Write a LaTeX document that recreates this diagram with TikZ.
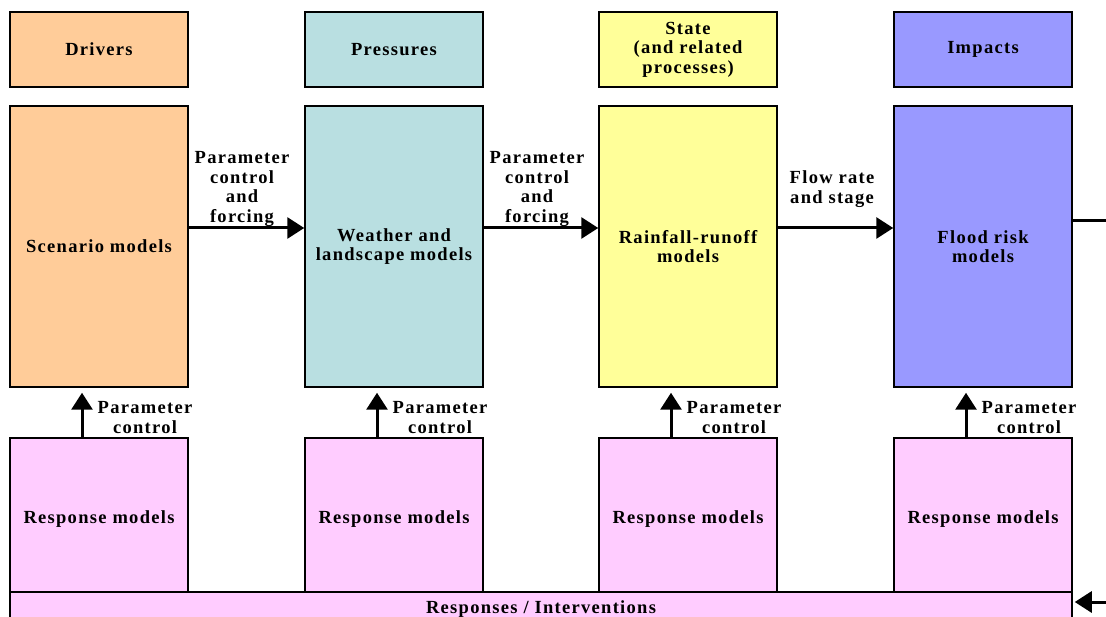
\documentclass[tikz,border=0pt]{standalone}
\usepackage{fontspec}
\newfontfamily\boxfont[LetterSpace=7]{Liberation Serif}
\usetikzlibrary{arrows.meta}
\definecolor{driverfill}{HTML}{FFCC99}
\definecolor{pressurefill}{HTML}{B9DFE1}
\definecolor{statefill}{HTML}{FFFF99}
\definecolor{impactfill}{HTML}{9999FF}
\definecolor{responsefill}{HTML}{FFCCFF}
\begin{document}
\begin{tikzpicture}
[x=1pt,y=-1pt,
box/.style={draw=black,line width=1.5pt,inner sep=0pt,align=center,
font={\boxfont\bfseries\fontsize{18.5}{19.5}\selectfont}},
headbox/.style={box,minimum width=178pt,minimum height=75pt},
modelbox/.style={box,minimum width=178pt,minimum height=281pt},
respbox/.style={box,fill=responsefill,minimum width=178pt,minimum height=162pt},
tag/.style={align=center,inner sep=0pt,
font={\boxfont\bfseries\fontsize{18.5}{19.8}\selectfont}},
flow/.style={line width=3pt,-{Triangle[length=17pt,width=21pt]}}]
       \useasboundingbox (0,0) rectangle (1106,617);
       \node at (99,49.5) [headbox,fill=driverfill] (drivers) {Drivers};
       \node at (394,49.5) [headbox,fill=pressurefill] (pressures) {Pressures};
       \node at (688,49.5) [headbox,fill=statefill] (state) {State\\(and related\\processes)};
       \node at (983,49.5) [headbox,fill=impactfill] (impacts) {Impacts};
       \node at (99,246.5) [modelbox,fill=driverfill] (scenario) {Scenario models};
       \node at (394,246.5) [modelbox,fill=pressurefill] (weather) {Weather and\\landscape models};
       \node at (688,246.5) [modelbox,fill=statefill] (rainfall) {Rainfall-runoff\\models};
       \node at (983,246.5) [modelbox,fill=impactfill] (flood) {Flood risk\\models};
       \foreach \i/\x in {1/99,2/394,3/688,4/983}{
         \node at (\x+46,417.5) [tag] (ctrl\i) {Parameter\\control};
       }
       \foreach \i/\x in {1/99,2/394,3/688,4/983}{
         \node at (\x,519) [respbox] (resp\i) {Response models};
       }
       \node at (541,609) [box,fill=responsefill,minimum width=1062pt,minimum height=34pt] (interventions) {Responses / Interventions};
       \draw[flow,shorten >=5pt] ([xshift=-17pt]resp1.north) -- ([xshift=-17pt]scenario.south);
       \draw[flow,shorten >=5pt] ([xshift=-17pt]resp2.north) -- ([xshift=-17pt]weather.south);
       \draw[flow,shorten >=5pt] ([xshift=-17pt]resp3.north) -- ([xshift=-17pt]rainfall.south);
       \draw[flow,shorten >=5pt] ([xshift=-17pt]resp4.north) -- ([xshift=-17pt]flood.south);
       \draw[flow] ([yshift=18.5pt]scenario.east) -- ([yshift=18.5pt]weather.west);
       \draw[flow] ([yshift=18.5pt]weather.east) -- ([yshift=18.5pt]rainfall.west);
       \draw[flow] ([yshift=18.5pt]rainfall.east) -- ([yshift=18.5pt]flood.west);
       \node at (242,189) [tag] (forcing1) {Parameter\\control\\and\\forcing};
       \node at (537,189) [tag] (forcing2) {Parameter\\control\\and\\forcing};
       \node at (832,189) [tag] (flowrate) {Flow rate\\and stage};
       \coordinate (onward) at (1106,221);
       \coordinate (feedback) at (1106,602);
       \draw[line width=3pt] ([yshift=25.5pt]flood.east) -- (onward);
       \draw[flow] (feedback) -- ([yshift=7pt,xshift=2pt]interventions.east);
    \end{tikzpicture}
\end{document}
